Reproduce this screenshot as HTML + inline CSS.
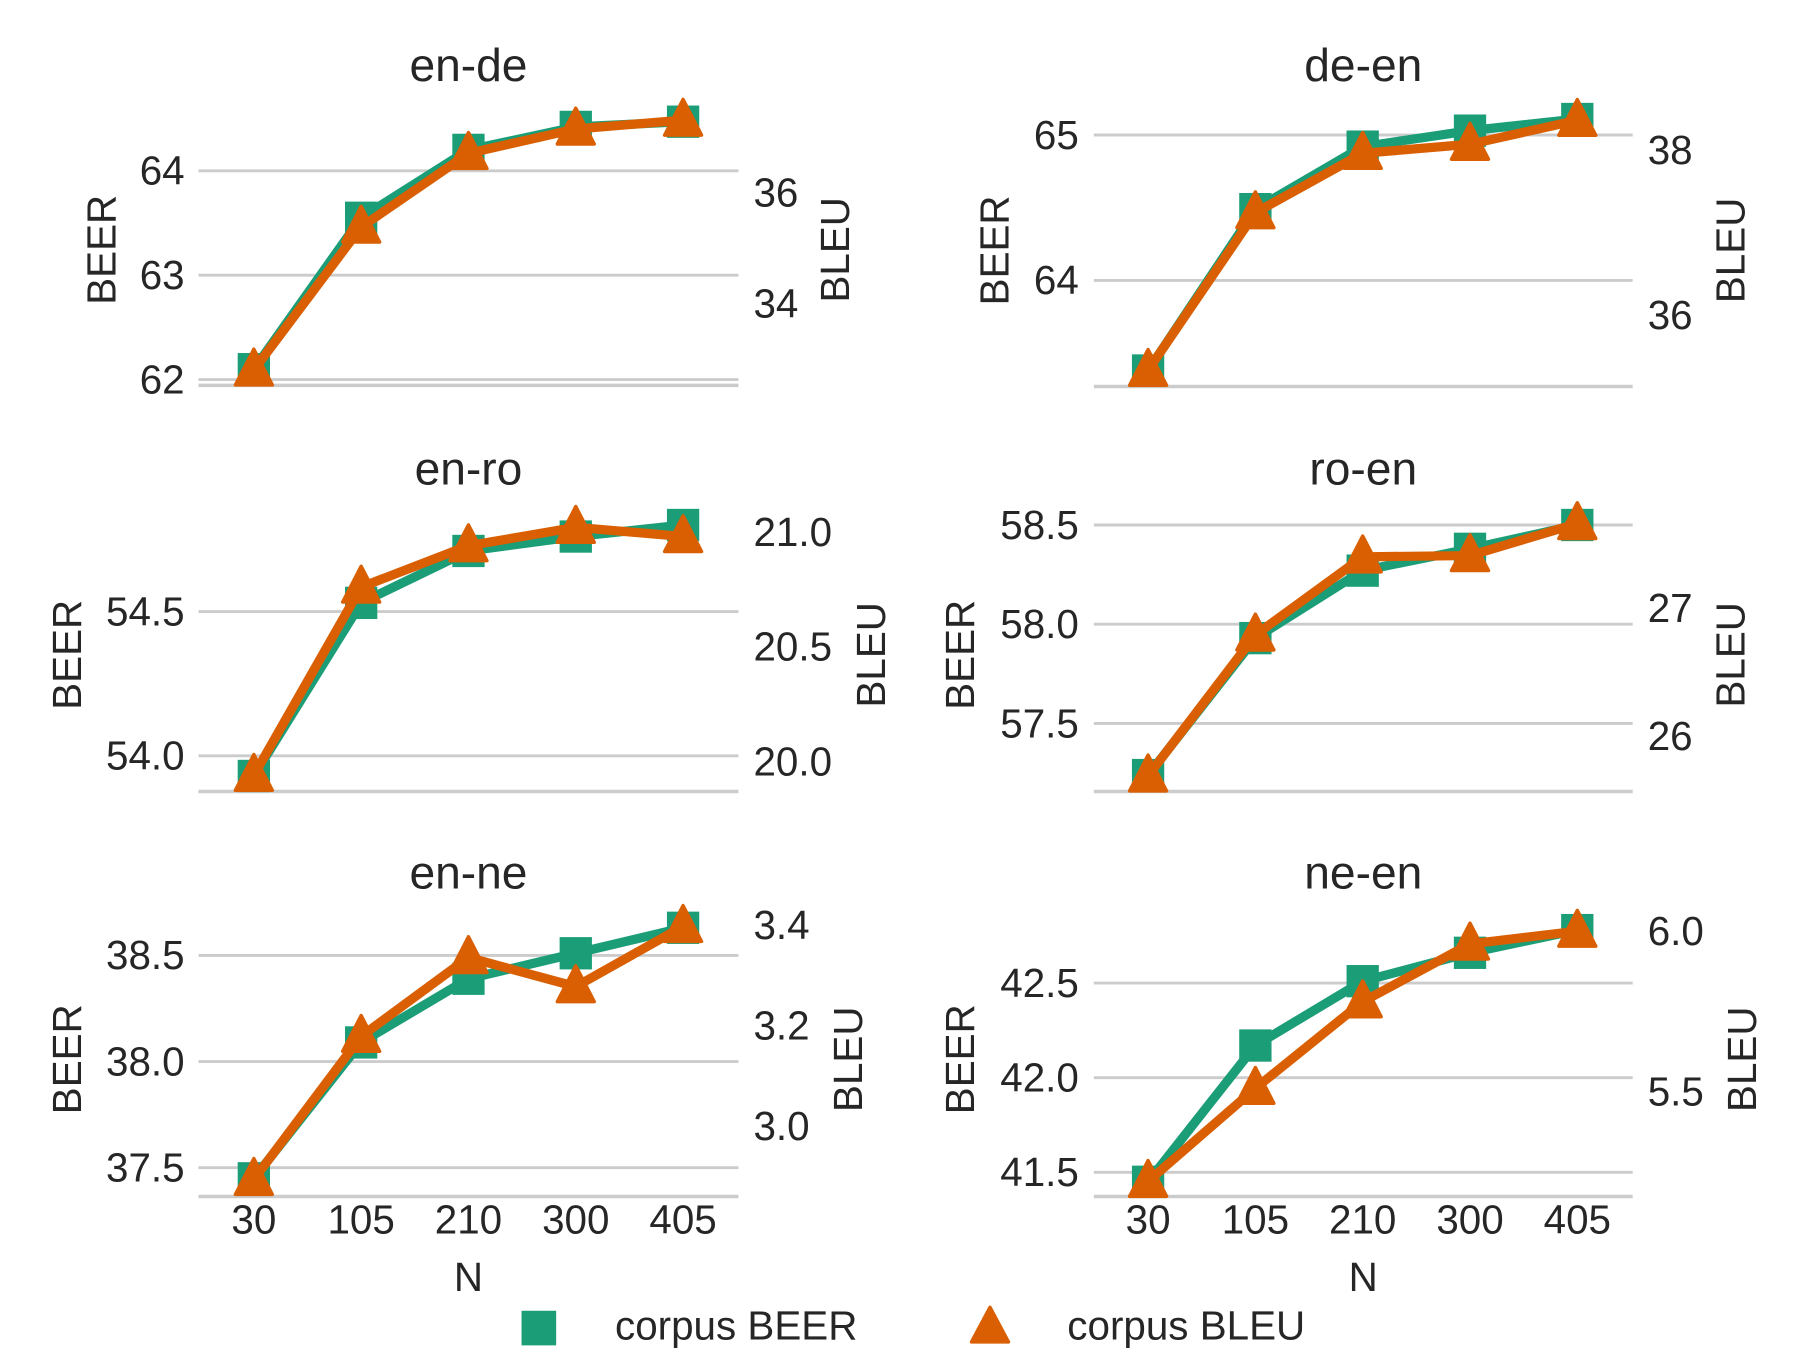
<!DOCTYPE html>
<html><head><meta charset="utf-8"><style>
html,body{margin:0;padding:0;background:#fff;}
svg{display:block;font-family:"Liberation Sans",sans-serif;}
</style></head><body>
<svg id="chart" width="1800" height="1350" viewBox="0 0 1560 1170" xmlns="http://www.w3.org/2000/svg"></svg>
<script>
const categories = ["30","105","210","300","405"];
const titles = ["en-de","de-en","en-ro","ro-en","en-ne","ne-en"];
const beerEnDe = [62.1,63.55,64.2,64.42,64.47];
const bleuEnDe = [32.8,35.38,36.71,37.15,37.31];
const beerDeEn = [63.38,64.49,64.92,65.03,65.11];
const bleuDeEn = [35.33,37.24,37.96,38.07,38.36];
const beerEnRo = [53.93,54.53,54.71,54.76,54.8];
const bleuEnRo = [19.94,20.76,20.94,21.02,20.98];
const beerRoEn = [57.24,57.93,58.27,58.38,58.5];
const bleuRoEn = [25.69,26.79,27.40,27.41,27.66];
const beerEnNe = [37.45,38.09,38.39,38.51,38.63];
const bleuEnNe = [2.894,3.179,3.336,3.278,3.398];
const beerNeEn = [41.45,42.17,42.51,42.66,42.78];
const bleuNeEn = [5.22,5.51,5.78,5.96,6.0];
const beerTicks = [["62","63","64"],["64","65"],["54.0","54.5"],["57.5","58.0","58.5"],["37.5","38.0","38.5"],["41.5","42.0","42.5"]];
const bleuTicks = [["34","36"],["36","38"],["20.0","20.5","21.0"],["26","27"],["3.0","3.2","3.4"],["5.5","6.0"]];
const beerSeries=[beerEnDe,beerDeEn,beerEnRo,beerRoEn,beerEnNe,beerNeEn];
const bleuSeries=[bleuEnDe,bleuDeEn,bleuEnRo,bleuRoEn,bleuEnNe,bleuNeEn];
const beerCal=[[62,329,64,148],[64,243,65,117],[54,655,54.5,530],[57.5,627,58.5,455],[37.5,1012,38.5,828],[41.5,1016,42.5,852]];
const bleuCal=[[34,263,36,167],[36,273,38,130],[20,660,21,461],[26,638,27,527],[3.0,976,3.4,802],[5.5,946,6.0,807]];
const layout=[
 {x0:220,left:172,right:640,ty:57,bottom:334,beerX:88,bleuX:724,tl:160,tr:653},
 {x0:995,left:948,right:1415,ty:57,bottom:335,beerX:862,bleuX:1500,tl:935,tr:1428},
 {x0:220,left:172,right:640,ty:407,bottom:686,beerX:58,bleuX:755,tl:160,tr:653},
 {x0:995,left:948,right:1415,ty:407,bottom:686,beerX:832,bleuX:1500,tl:935,tr:1428},
 {x0:220,left:172,right:640,ty:757,bottom:1037,beerX:58,bleuX:735,tl:160,tr:653},
 {x0:995,left:948,right:1415,ty:757,bottom:1037,beerX:832,bleuX:1510,tl:935,tr:1428}];
const NS="http://www.w3.org/2000/svg";
const svg=document.getElementById('chart');
const GREEN="#1b9e77",ORANGE="#d95f02",TXT="#262626";
function mk(tag,attrs,parent){const e=document.createElementNS(NS,tag);for(const k in attrs)e.setAttribute(k,attrs[k]);(parent||svg).appendChild(e);return e;}
function lin(c){return v=>c[1]+(v-c[0])*(c[3]-c[1])/(c[2]-c[0]);}
layout.forEach((L,p)=>{
 const g=mk('g',{});
 
 
 const xs=i=>L.x0+i*93;
 const yb=lin(beerCal[p]), yr=lin(bleuCal[p]);
 beerTicks[p].forEach(t=>{const y=yb(parseFloat(t));
  const ln=mk('line',{x1:L.left,x2:L.right,y1:y,y2:y,stroke:"#cccccc","stroke-width":2.5},g);
  
  const tx=mk('text',{x:L.tl,y:y+12,"text-anchor":"end","font-size":35,fill:TXT},g);tx.textContent=t;
  });
 bleuTicks[p].forEach(t=>{const y=yr(parseFloat(t));
  const tx=mk('text',{x:L.tr,y:y+12,"font-size":35,fill:TXT},g);tx.textContent=t;
  });
 const bl=mk('line',{x1:L.left,x2:L.right,y1:L.bottom,y2:L.bottom,stroke:"#cccccc","stroke-width":3},g);
 
 const ti=mk('text',{x:(L.left+L.right)/2,y:L.ty+13,"text-anchor":"middle","font-size":40,fill:TXT},g);ti.textContent=titles[p];
 
 const my=(L.ty+L.bottom)/2+21;
 const a=mk('text',{x:0,y:0,"text-anchor":"middle","font-size":35,fill:TXT,transform:`translate(${L.beerX+12},${my}) rotate(-90)`},g);a.textContent="BEER";
 
 const b=mk('text',{x:0,y:0,"text-anchor":"middle","font-size":35,fill:TXT,transform:`translate(${L.bleuX+12},${my}) rotate(-90)`},g);b.textContent="BLEU";
 
 const bp=beerSeries[p].map((v,i)=>xs(i)+","+yb(v)).join(" ");
 const l1=mk('polyline',{points:bp,fill:"none",stroke:GREEN,"stroke-width":8,"stroke-linejoin":"round"},g);
 
 beerSeries[p].forEach((v,i)=>{const r=mk('rect',{x:xs(i)-14,y:yb(v)-14,width:28,height:28,fill:GREEN},g);
  });
 const rp=bleuSeries[p].map((v,i)=>xs(i)+","+yr(v)).join(" ");
 const l2=mk('polyline',{points:rp,fill:"none",stroke:ORANGE,"stroke-width":8,"stroke-linejoin":"round"},g);
 
 bleuSeries[p].forEach((v,i)=>{const x=xs(i),y=yr(v);
  const t=mk('polygon',{points:`${x},${y-18} ${x+16},${y+13} ${x-16},${y+13}`,fill:ORANGE,stroke:ORANGE,"stroke-width":3,"stroke-linejoin":"round"},g);
  });
 if(p>=4){categories.forEach((c,i)=>{const t=mk('text',{x:xs(i),y:1069,"text-anchor":"middle","font-size":35,fill:TXT},g);t.textContent=c;
   });
  const n=mk('text',{x:(L.left+L.right)/2,y:1119,"text-anchor":"middle","font-size":35,fill:TXT},g);n.textContent="N";
  }
});
const lg=mk('g',{});


const ls=mk('rect',{x:452,y:1136,width:30,height:30,fill:GREEN},lg);

const lt1=mk('text',{x:533,y:1161,"font-size":35,fill:TXT},lg);lt1.textContent="corpus BEER";

const lp=mk('polygon',{points:"858,1133 874,1163 842,1163",fill:ORANGE,stroke:ORANGE,"stroke-width":3,"stroke-linejoin":"round"},lg);

const lt2=mk('text',{x:925,y:1161,"font-size":35,fill:TXT},lg);lt2.textContent="corpus BLEU";

</script>
</body></html>
